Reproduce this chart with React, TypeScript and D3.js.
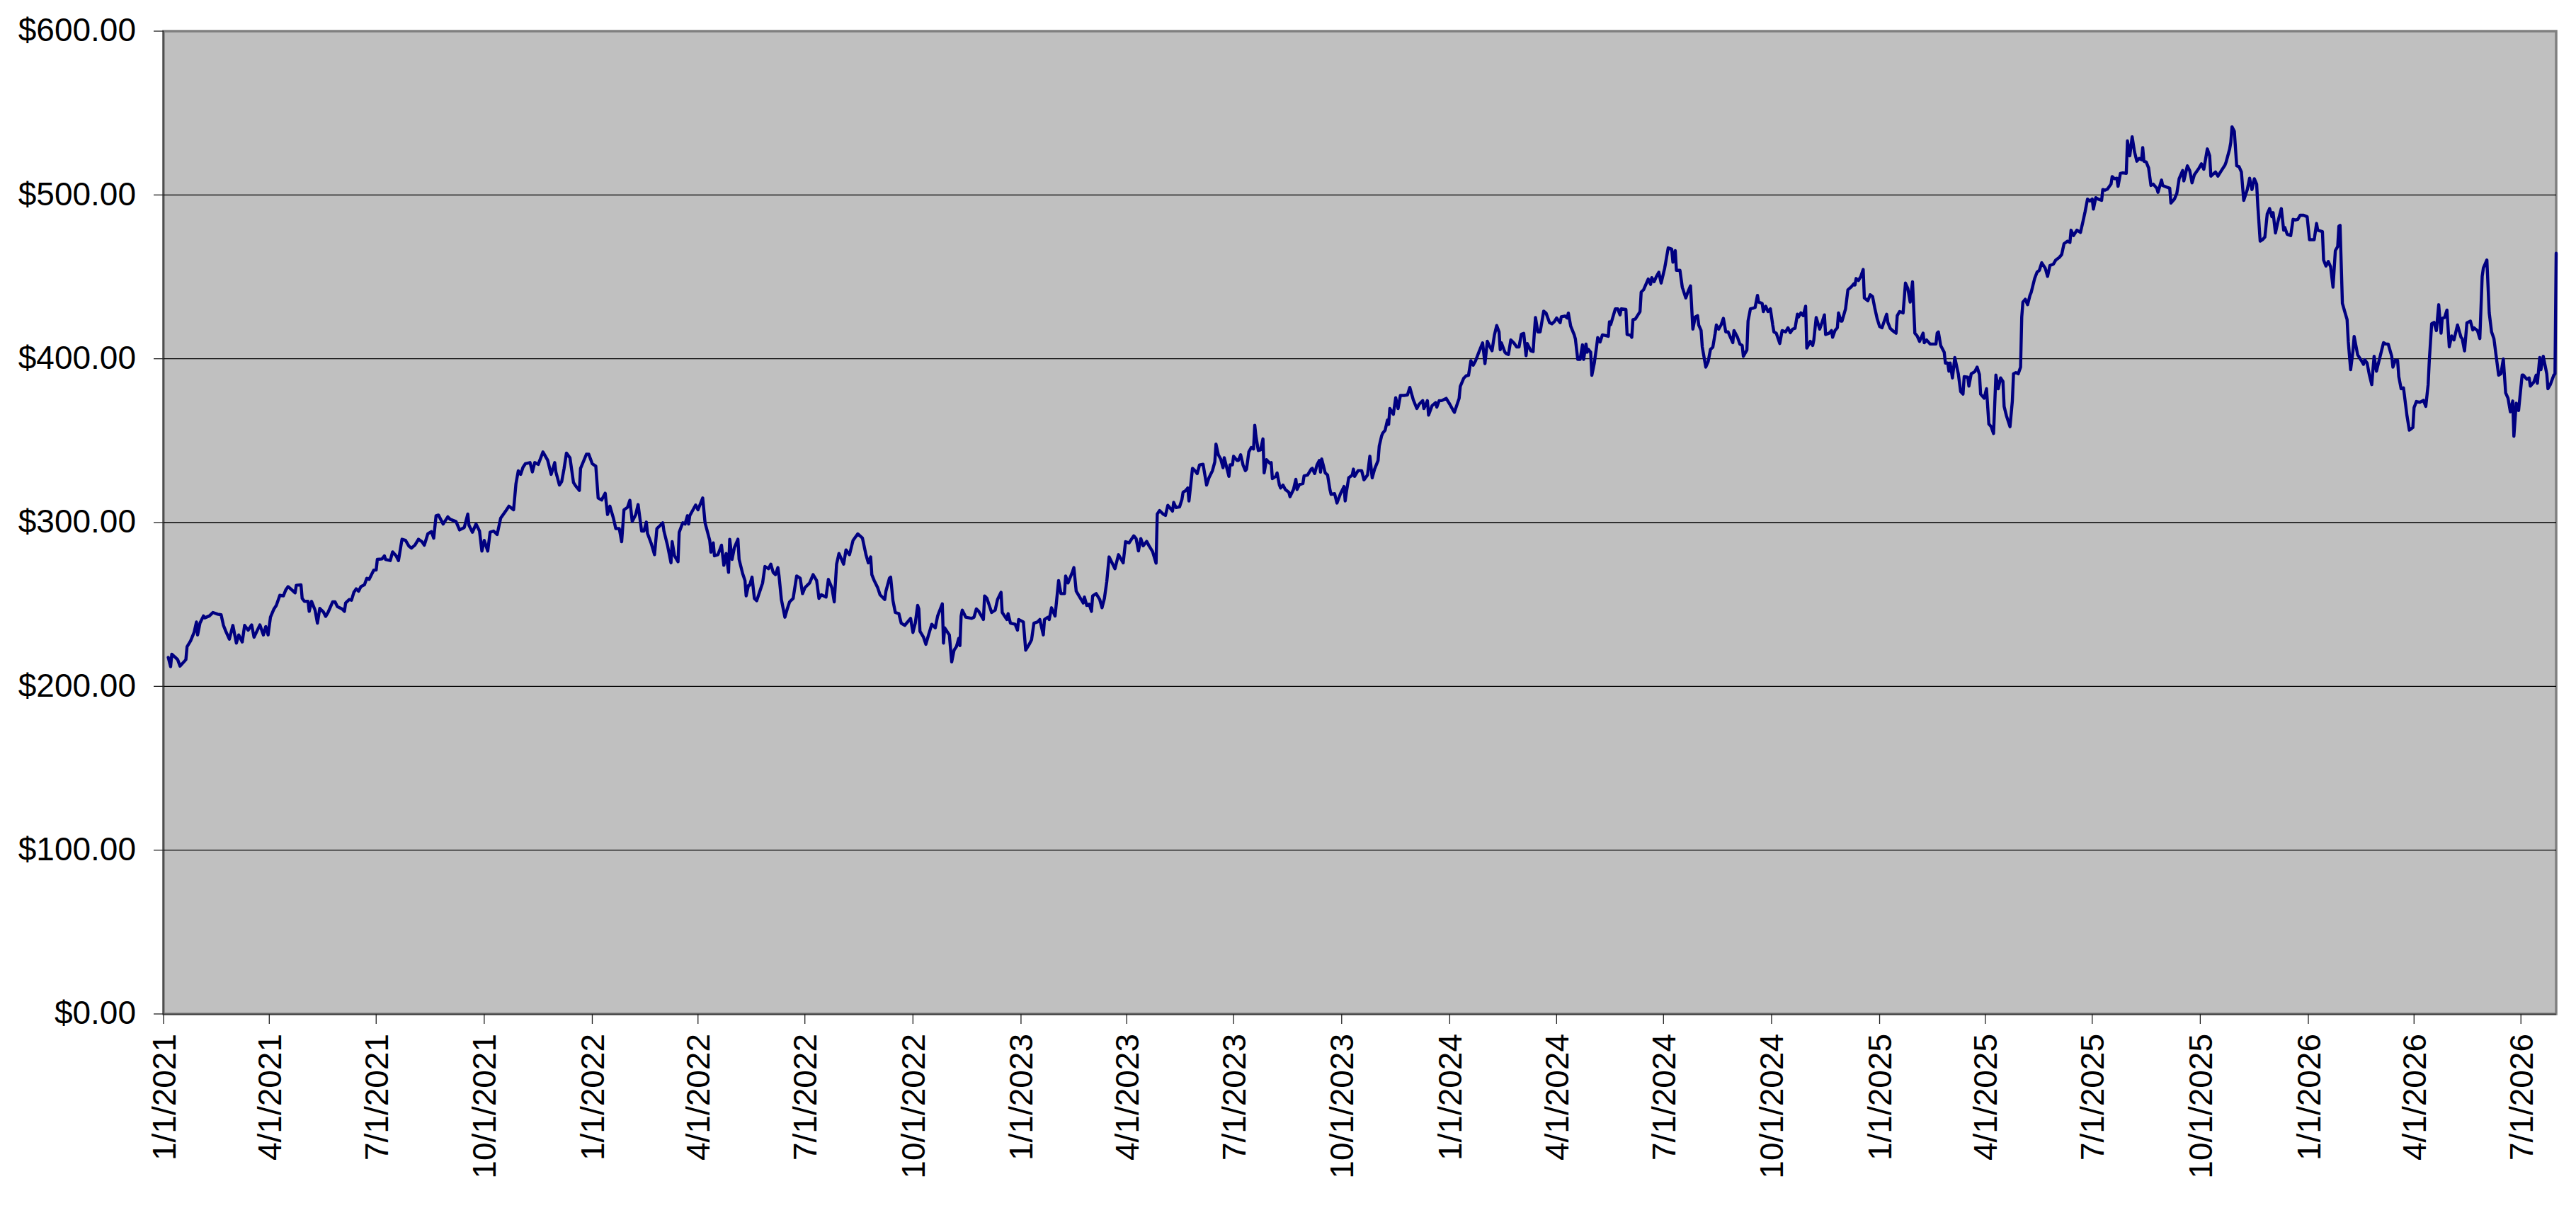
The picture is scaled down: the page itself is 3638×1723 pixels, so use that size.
import * as d3 from "d3";
import React from "react";

// closing prices: [days after 1/1/2021, close]
const closes2021: [number, number][] = [
  [4, 217.7], [6, 212.0], [7, 219.6], [10, 217.7], [12, 216.3], [14, 212.4], [19, 216.3], [20, 224.2], [23, 227.8], [26, 232.9],
  [28, 239.3], [29, 231.4], [31, 238.6], [34, 243.0], [35, 241.8], [39, 243.0], [42, 245.1], [46, 244.1], [49, 243.7], [51, 237.2],
  [53, 233.6], [56, 228.8], [59, 237.2], [62, 226.4], [64, 231.4], [67, 227.1], [69, 237.2], [72, 234.3], [75, 237.5], [77, 230.0],
  [82, 237.5], [85, 231.4], [87, 236.5], [89, 231.4], [91, 242.2], [94, 247.3], [96, 249.4], [99, 255.6], [102, 255.2], [104, 258.8],
  [106, 260.9], [112, 257.1], [113, 261.7], [117, 262.0], [118, 253.7], [120, 251.9], [123, 251.9], [124, 245.8], [126, 251.9], [129, 246.5],
  [131, 238.6], [133, 247.6], [136, 245.5], [138, 242.7], [140, 245.1], [144, 251.6], [146, 251.6], [148, 248.7], [152, 247.3], [154, 245.8],
  [155, 250.9], [158, 253.0], [160, 252.6], [162, 257.4], [164, 259.5], [166, 258.1], [168, 260.9], [171, 262.0], [173, 266.0], [175, 265.3],
  [179, 271.0], [181, 271.0], [182, 277.5], [186, 277.8], [188, 279.7], [189, 277.5], [193, 276.8], [195, 282.1], [198, 279.7], [200, 276.8],
  [203, 289.8], [206, 289.1], [209, 285.5], [211, 284.4], [214, 286.2], [217, 289.8], [220, 288.3], [222, 286.2], [225, 293.1], [228, 294.5],
  [230, 290.5], [232, 304.2], [234, 304.6], [238, 299.1], [242, 303.5], [244, 302.0], [249, 300.6], [252, 295.5], [256, 297.0], [259, 305.2],
  [260, 298.4], [263, 294.1], [266, 299.1], [269, 294.8], [271, 282.6], [273, 289.1], [276, 282.6], [278, 294.1], [281, 294.8], [284, 292.7],
  [287, 302.7], [292, 307.8], [294, 310.0], [298, 307.8], [300, 323.6], [302, 331.6], [304, 329.4], [306, 333.7], [308, 335.9], [312, 336.6],
  [314, 330.9], [316, 336.6], [319, 335.5], [323, 343.1], [327, 338.1], [330, 329.4], [333, 336.6], [334, 330.9], [337, 322.9], [339, 325.1],
  [341, 333.0], [343, 342.4], [346, 339.5], [349, 324.4], [351, 322.2], [354, 319.6], [355, 333.0], [360, 341.7], [362, 341.7],
];

const closes2022: [number, number][] = [
  [365, 335.9], [368, 334.4], [370, 315.0], [373, 313.8], [376, 317.9], [378, 304.9], [380, 310.0], [383, 302.7], [385, 296.3], [388, 296.3],
  [390, 288.3], [392, 307.8], [395, 309.3], [397, 313.6], [399, 300.6], [402, 304.9], [404, 311.0], [407, 294.8], [409, 294.8], [411, 300.3],
  [412, 293.4], [415, 287.6], [418, 280.4], [420, 296.3], [423, 298.4], [425, 299.9], [426, 294.8], [429, 286.2], [432, 275.4], [433, 288.3],
  [435, 279.7], [438, 276.1], [439, 294.1], [442, 299.9], [444, 299.1], [446, 304.2], [447, 299.1], [448, 304.2], [453, 310.7], [455, 307.8],
  [459, 315.0], [461, 299.9], [465, 289.1], [466, 281.9], [468, 287.6], [469, 279.7], [472, 280.4], [475, 286.2], [477, 273.9], [479, 281.1],
  [481, 269.6], [482, 289.8], [484, 277.5], [486, 284.7], [489, 289.8], [490, 277.5], [493, 268.9], [495, 264.6], [496, 255.2], [498, 261.7],
  [499, 261.7], [501, 266.7], [503, 253.7], [505, 252.3], [508, 258.8], [510, 263.1], [512, 273.2], [515, 271.8], [517, 274.6], [519, 269.6],
  [521, 268.2], [523, 272.5], [524, 267.4], [526, 253.0], [529, 242.2], [531, 247.3], [533, 251.6], [536, 253.7], [539, 267.4], [542, 266.0],
  [544, 256.6], [546, 260.2], [550, 263.1], [553, 268.2], [556, 264.6], [558, 253.7], [560, 255.9], [564, 254.5], [566, 265.3], [569, 260.2],
  [571, 251.6], [573, 274.6], [575, 281.1], [579, 274.6], [581, 283.3], [584, 280.4], [587, 289.1], [591, 293.1], [595, 290.5], [598, 280.4],
  [600, 275.4], [602, 279.0], [603, 268.2], [605, 264.6], [608, 260.2], [610, 255.9], [614, 253.0], [615, 258.1], [618, 266.0], [619, 266.7],
  [621, 252.3], [623, 245.1], [626, 244.4], [628, 238.6], [631, 237.2], [636, 241.5], [638, 232.9], [640, 238.6], [642, 249.4], [643, 247.3],
  [644, 233.6], [647, 230.0], [649, 225.7], [651, 230.7], [654, 237.9], [657, 235.7], [659, 242.9], [663, 250.4], [664, 226.4], [665, 235.7],
  [669, 231.4], [671, 214.9], [673, 222.1], [675, 224.2], [677, 229.3], [678, 224.9], [679, 242.9], [680, 246.5], [683, 242.2], [688, 241.5],
  [690, 242.2], [692, 247.3], [694, 245.8], [698, 240.8], [699, 255.2], [701, 253.7], [705, 245.1], [708, 246.5], [710, 253.0], [713, 257.4],
  [714, 245.1], [718, 240.8], [719, 244.4], [721, 238.6], [725, 237.9], [727, 234.3], [728, 240.8],
];

const closes2023: [number, number][] = [
  [732, 239.3], [734, 222.1], [737, 225.7], [739, 228.5], [741, 238.6], [744, 239.3], [746, 240.8], [749, 231.4], [750, 240.8], [753, 242.2],
  [754, 240.8], [756, 248.0], [759, 242.9], [762, 264.6], [764, 256.6], [767, 256.6], [768, 267.4], [770, 263.1], [774, 270.3], [775, 272.5],
  [777, 258.1], [780, 254.5], [783, 250.9], [784, 254.5], [786, 249.4], [788, 250.2], [790, 245.8], [791, 255.2], [794, 256.6], [797, 253.0],
  [799, 248.0], [801, 253.7], [803, 263.8], [805, 279.0], [810, 271.8], [813, 280.4], [817, 275.4], [819, 288.3], [822, 287.6], [826, 291.9],
  [828, 290.2], [830, 282.7], [832, 290.2], [834, 285.8], [837, 288.5], [839, 285.8], [842, 282.3], [845, 275.2], [846, 305.2], [848, 307.3],
  [851, 305.2], [853, 304.4], [855, 310.5], [857, 308.8], [859, 307.0], [860, 312.3], [862, 309.1], [865, 309.6], [867, 314.1], [868, 318.5],
  [870, 319.4], [872, 321.1], [873, 313.2], [876, 333.1], [878, 331.7], [880, 329.9], [882, 335.2], [885, 335.6], [888, 322.9], [890, 327.3],
  [893, 331.7], [895, 337.0], [896, 347.9], [898, 341.4], [900, 338.8], [902, 333.5], [903, 339.6], [907, 328.2], [908, 335.2], [910, 335.2],
  [911, 340.5], [914, 337.9], [915, 337.9], [917, 341.4], [919, 335.2], [921, 331.7], [922, 332.6], [924, 343.2], [926, 345.8], [928, 344.9],
  [929, 359.4], [930, 352.9], [932, 344.0], [934, 344.4], [936, 351.1], [937, 330.3], [939, 338.4], [942, 336.1], [943, 336.6], [944, 326.8],
  [947, 328.2], [948, 330.3], [950, 322.9], [951, 321.1], [953, 322.9], [955, 320.2], [958, 318.5], [959, 315.8], [962, 320.2], [964, 326.4],
  [965, 320.2], [967, 323.2], [970, 323.8], [971, 328.5], [974, 329.0], [977, 332.6], [978, 333.1], [980, 329.9], [982, 335.2], [984, 337.9],
  [985, 330.8], [986, 338.8], [989, 330.3], [991, 329.0], [993, 320.2], [994, 317.2], [997, 317.6], [999, 311.9], [1002, 317.6], [1005, 322.0],
  [1006, 313.2], [1007, 318.5], [1009, 327.3], [1012, 329.0], [1013, 332.6], [1014, 328.2], [1017, 331.7], [1020, 331.7], [1022, 326.1], [1025, 329.0],
  [1027, 340.5], [1029, 327.3], [1031, 332.6], [1034, 337.9], [1035, 346.7], [1037, 352.9], [1038, 354.6], [1040, 356.4], [1042, 362.6], [1043, 359.9],
  [1044, 369.6], [1047, 366.1], [1049, 376.2], [1051, 369.6], [1053, 377.6], [1056, 377.6], [1059, 377.9], [1061, 382.5], [1064, 374.9], [1067, 369.6],
  [1069, 372.3], [1072, 374.4], [1073, 369.6], [1076, 374.4], [1077, 365.6], [1080, 371.4], [1083, 373.2], [1084, 370.5], [1086, 374.4], [1088, 374.4],
  [1092, 375.8],
];

const closes2024: [number, number][] = [
  [1095, 372.3], [1098, 368.4], [1099, 367.3], [1103, 375.8], [1104, 383.2], [1107, 388.2], [1109, 389.6], [1111, 389.9], [1113, 398.8], [1115, 396.1],
  [1117, 398.8], [1120, 404.4], [1123, 409.7], [1125, 397.0], [1127, 410.7], [1129, 407.6], [1131, 404.9], [1133, 414.3], [1135, 420.3], [1137, 416.4],
  [1138, 405.5], [1139, 409.7], [1142, 404.0], [1143, 403.2], [1145, 402.6], [1147, 411.5], [1150, 409.3], [1152, 407.2], [1154, 407.2], [1156, 415.0],
  [1158, 415.5], [1160, 401.9], [1161, 409.3], [1164, 404.9], [1166, 404.4], [1167, 415.5], [1168, 425.2], [1170, 416.4], [1172, 416.4], [1175, 429.1],
  [1177, 427.9], [1180, 422.0], [1182, 421.3], [1184, 422.6], [1186, 424.9], [1189, 422.0], [1190, 425.6], [1193, 426.1], [1195, 424.9], [1196, 427.9],
  [1198, 419.9], [1201, 414.6], [1202, 412.0], [1204, 399.6], [1206, 399.6], [1208, 408.5], [1209, 399.6], [1211, 409.0], [1212, 404.0], [1213, 405.8],
  [1215, 404.0], [1216, 389.9], [1218, 397.0], [1220, 407.2], [1221, 412.9], [1223, 410.2], [1225, 414.6], [1227, 414.3], [1230, 413.7], [1231, 422.6],
  [1232, 420.8], [1236, 430.5], [1238, 430.5], [1240, 426.8], [1241, 430.5], [1245, 430.1], [1246, 414.8], [1249, 414.3], [1250, 413.1], [1251, 423.9],
  [1253, 424.2], [1257, 428.8], [1258, 440.7], [1260, 442.1], [1264, 448.7], [1266, 445.4], [1267, 449.5], [1269, 447.0], [1271, 450.3], [1273, 452.8],
  [1275, 446.2], [1278, 455.3], [1279, 459.4], [1281, 467.7], [1284, 466.9], [1285, 458.9], [1287, 466.0], [1288, 454.0], [1291, 454.0], [1293, 443.7],
  [1296, 437.1], [1298, 441.2], [1300, 444.5], [1302, 418.1], [1304, 425.5], [1306, 426.3], [1307, 420.6], [1309, 417.3], [1310, 407.3], [1313, 394.9],
  [1315, 398.2], [1317, 405.7], [1319, 407.0], [1321, 415.6], [1322, 420.6], [1324, 418.1], [1326, 420.6], [1328, 424.7], [1330, 416.4], [1332, 416.4],
  [1334, 413.1], [1336, 409.8], [1337, 417.2], [1340, 413.1], [1342, 409.0], [1344, 408.1], [1345, 401.5], [1348, 405.3], [1349, 423.0], [1351, 430.5],
  [1353, 430.8], [1355, 431.3], [1357, 438.7], [1358, 434.6], [1361, 433.8], [1362, 428.8], [1364, 432.1], [1366, 428.8], [1368, 430.5], [1370, 420.6],
  [1371, 416.4], [1373, 415.6], [1376, 409.3], [1378, 417.2], [1381, 416.4], [1383, 418.9], [1385, 415.9], [1387, 418.1], [1389, 418.6], [1391, 427.2],
  [1392, 425.5], [1394, 428.0], [1396, 426.3], [1398, 432.1], [1399, 406.5], [1402, 410.6], [1404, 408.1], [1405, 411.5], [1407, 425.2], [1410, 418.1],
  [1412, 422.2], [1414, 426.8], [1415, 414.8], [1418, 415.6], [1420, 417.2], [1421, 413.1], [1423, 417.2], [1425, 418.9], [1426, 428.0], [1428, 423.0],
  [1429, 423.0], [1431, 428.0], [1432, 430.5], [1434, 442.1], [1437, 444.0], [1439, 445.7], [1440, 445.0], [1441, 449.0], [1443, 447.8], [1445, 450.3],
  [1447, 454.5], [1448, 437.1], [1451, 435.4], [1453, 439.1], [1455, 437.9], [1457, 430.5], [1459, 424.2],
];

const closes2025: [number, number][] = [
  [1461, 419.7], [1463, 418.9], [1466, 425.2], [1467, 427.2], [1468, 422.2], [1470, 418.6], [1472, 417.2], [1475, 415.6], [1476, 426.3], [1478, 428.8],
  [1481, 428.0], [1483, 446.2], [1485, 442.9], [1487, 434.6], [1489, 447.0], [1491, 415.6], [1493, 413.9], [1495, 410.6], [1498, 415.6], [1499, 409.8],
  [1501, 411.5], [1504, 409.0], [1506, 409.0], [1509, 409.0], [1510, 415.6], [1511, 416.4], [1513, 408.1], [1516, 404.0], [1517, 397.4], [1519, 397.4],
  [1520, 392.4], [1521, 397.4], [1523, 388.3], [1525, 400.7], [1528, 390.8], [1530, 380.0], [1532, 378.4], [1533, 389.1], [1536, 388.8], [1537, 383.3],
  [1539, 390.8], [1542, 392.1], [1544, 394.9], [1546, 390.4], [1547, 378.4], [1550, 375.9], [1552, 381.7], [1554, 360.2], [1556, 358.5], [1558, 354.4],
  [1560, 390.0], [1562, 381.7], [1564, 388.3], [1566, 386.1], [1567, 370.9], [1569, 365.1], [1572, 358.5], [1574, 374.2], [1575, 390.8], [1577, 391.6],
  [1579, 390.8], [1581, 394.9], [1582, 425.5], [1583, 434.6], [1585, 436.3], [1587, 433.0], [1589, 438.7], [1590, 440.4], [1593, 449.0], [1595, 452.8],
  [1597, 454.0], [1599, 458.6], [1602, 455.3], [1604, 450.3], [1606, 456.9], [1609, 457.8], [1611, 460.3], [1614, 461.9], [1616, 463.6], [1618, 470.2],
  [1621, 471.8], [1623, 471.0], [1624, 478.5], [1626, 475.2], [1629, 478.5], [1631, 477.6], [1632, 477.1], [1634, 483.4], [1636, 490.0], [1638, 497.5],
  [1640, 496.3], [1642, 497.5], [1643, 491.4], [1645, 498.3], [1647, 497.5], [1650, 496.7], [1651, 503.3], [1653, 502.9], [1655, 503.6], [1658, 506.6],
  [1659, 511.2], [1661, 509.9], [1663, 510.2], [1664, 505.3], [1666, 513.2], [1668, 513.5], [1671, 513.2], [1672, 533.0], [1674, 523.9], [1676, 535.5],
  [1678, 526.4], [1680, 520.6], [1682, 522.3], [1684, 521.5], [1685, 528.9], [1686, 520.6], [1688, 520.1], [1690, 516.5], [1692, 505.8], [1694, 506.6],
  [1697, 504.1], [1698, 501.6], [1701, 509.1], [1702, 505.8], [1705, 504.9], [1708, 504.1], [1709, 495.0], [1712, 497.5], [1714, 500.8], [1716, 509.9],
  [1719, 514.9], [1720, 508.6], [1723, 517.8], [1725, 514.9], [1727, 507.4], [1729, 512.4], [1733, 516.5], [1735, 519.0], [1737, 515.7], [1740, 528.1],
  [1742, 523.9], [1743, 511.5], [1747, 514.0], [1749, 511.5], [1752, 514.9], [1755, 518.2], [1756, 520.1], [1759, 528.1], [1760, 532.2], [1761, 541.6],
  [1763, 538.8], [1765, 517.8], [1767, 517.3], [1769, 514.0], [1771, 496.7], [1774, 503.3], [1776, 510.2], [1778, 503.3], [1780, 509.9], [1782, 506.6],
  [1783, 493.3], [1785, 471.8], [1787, 472.7], [1789, 474.3], [1791, 488.4], [1793, 491.7], [1795, 486.7], [1796, 489.2], [1798, 476.8], [1800, 483.4],
  [1803, 491.7], [1805, 478.5], [1806, 480.1], [1808, 476.0], [1811, 475.2], [1813, 485.1], [1815, 484.7], [1817, 485.1], [1819, 487.6], [1822, 487.6],
  [1825, 486.7],
];

const closes2026: [number, number][] = [
  [1827, 472.7], [1829, 472.7], [1831, 472.7], [1833, 482.6], [1834, 478.5], [1838, 477.6], [1839, 460.3], [1841, 456.6], [1843, 459.4], [1845, 456.1],
  [1847, 443.7], [1849, 466.0], [1851, 468.5], [1852, 480.9], [1853, 481.4], [1855, 433.8], [1857, 428.8], [1859, 423.9], [1860, 410.6], [1862, 393.3],
  [1864, 404.8], [1865, 413.6], [1868, 402.4], [1871, 399.0], [1873, 396.6], [1874, 399.4], [1876, 397.4], [1878, 390.0], [1880, 384.2], [1881, 393.3],
  [1882, 401.5], [1884, 392.4], [1886, 398.2], [1888, 404.0], [1890, 409.8], [1892, 409.0], [1894, 409.0], [1896, 404.0], [1897, 401.5], [1898, 394.9],
  [1900, 399.0], [1902, 399.0], [1903, 389.1], [1905, 381.7], [1907, 382.2], [1909, 370.9], [1910, 365.1], [1912, 356.4], [1915, 358.0], [1916, 370.1],
  [1918, 373.9], [1921, 373.4], [1924, 374.6], [1926, 370.9], [1928, 384.2], [1929, 399.0], [1931, 421.4], [1933, 422.2], [1935, 417.2], [1937, 433.0],
  [1939, 415.6], [1940, 424.7], [1942, 425.2], [1944, 429.7], [1946, 407.3], [1948, 413.9], [1950, 411.5], [1953, 420.6], [1956, 413.1], [1957, 412.3],
  [1959, 404.8], [1961, 421.9], [1964, 423.0], [1966, 417.6], [1967, 418.9], [1970, 417.2], [1972, 412.3], [1974, 450.3], [1975, 455.3], [1978, 460.3],
  [1980, 428.0], [1982, 416.4], [1984, 412.3], [1988, 390.0], [1990, 390.8], [1992, 399.9], [1994, 379.2], [1996, 375.9], [1998, 367.6], [2000, 374.2],
  [2001, 352.7], [2003, 372.9], [2005, 368.4], [2008, 390.0], [2009, 390.0], [2012, 387.5], [2014, 388.3], [2015, 383.3], [2018, 385.8], [2020, 390.0],
  [2021, 385.0], [2023, 400.7], [2024, 393.3], [2026, 401.5], [2029, 390.8], [2030, 381.7], [2032, 384.2], [2035, 390.0], [2036, 390.8], [2037, 464.4],
];

const priceTicks = [0, 100, 200, 300, 400, 500, 600];

const WIDTH = 3638;
const HEIGHT = 1723;
const margin = { top: 44, right: 28, bottom: 291, left: 231 };
const FONT = "'Liberation Sans', Arial, Helvetica, sans-serif";
const LABEL_SIZE = 46;

const startDate = new Date(Date.UTC(2021, 0, 1));
const endDate = new Date(Date.UTC(2026, 6, 31));
const dayToDate = (d: number) => new Date(Date.UTC(2021, 0, 1 + d));

export default function App() {
  const series = [...closes2021, ...closes2022, ...closes2023, ...closes2024, ...closes2025, ...closes2026];

  const x = d3.scaleUtc().domain([startDate, endDate]).range([margin.left, WIDTH - margin.right]);
  const y = d3.scaleLinear().domain([0, 600]).range([HEIGHT - margin.bottom, margin.top]);

  const quarterTicks = d3.utcMonth.every(3)!.range(startDate, endDate);
  const fmtDate = d3.utcFormat("%-m/%-d/%Y");
  const fmtPrice = d3.format("$.2f");

  const line = d3.line<[number, number]>()
    .x((d) => x(dayToDate(d[0])))
    .y((d) => y(d[1]));

  const left = margin.left;
  const right = WIDTH - margin.right;
  const top = margin.top;
  const bottom = HEIGHT - margin.bottom;

  return (
    <svg
      width={WIDTH}
      height={HEIGHT}
      style={{ position: "absolute", left: 0, top: 0, background: "#ffffff" }}
      fontFamily={FONT}
    >
      {/* plot area */}
      <rect x={left} y={top} width={right - left} height={bottom - top} fill="#c0c0c0" stroke="#808080" strokeWidth={3.5} />

      {/* gridlines */}
      {priceTicks.filter((t) => t > 0 && t < 600).map((t) => (
        <line key={"g" + t} x1={left} x2={right} y1={y(t)} y2={y(t)} stroke="#000" strokeWidth={1.3} />
      ))}

      <path d={line(series) ?? ""} fill="none" stroke="#000080" strokeWidth={4.4} strokeLinejoin="round" strokeLinecap="round" />

      {/* axes */}
      <line x1={left - 0.5} x2={left - 0.5} y1={top} y2={bottom} stroke="#404040" strokeWidth={1.8} />
      <line x1={left} x2={right} y1={bottom + 0.5} y2={bottom + 0.5} stroke="#404040" strokeWidth={1.8} />

      {priceTicks.map((t) => (
        <g key={"y" + t}>
          <line x1={left - 14} x2={left} y1={y(t)} y2={y(t)} stroke="#202020" strokeWidth={1.3} />
          <text x={192} y={y(t)} dy="0.31em" textAnchor="end" fontSize={LABEL_SIZE} fill="#000">
            {fmtPrice(t)}
          </text>
        </g>
      ))}

      {quarterTicks.map((d) => (
        <g key={"x" + d.getTime()}>
          <line x1={x(d)} x2={x(d)} y1={bottom} y2={bottom + 14} stroke="#202020" strokeWidth={1.3} />
          <text
            transform={`translate(${x(d)},${bottom + 28}) rotate(-90)`}
            dy="0.36em"
            textAnchor="end"
            fontSize={LABEL_SIZE}
            fill="#000"
          >
            {fmtDate(d)}
          </text>
        </g>
      ))}
    </svg>
  );
}
